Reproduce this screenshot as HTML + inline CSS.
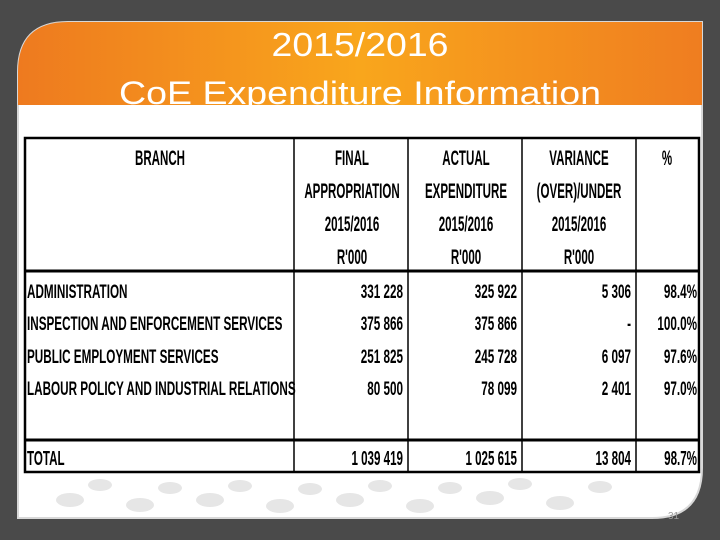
<!DOCTYPE html>
<html><head><meta charset="utf-8"><style>
html,body{margin:0;padding:0;background:#4a4a4a;}
svg{display:block;}
</style></head><body>
<svg id="s" width="720" height="540" viewBox="0 0 720 540" xmlns="http://www.w3.org/2000/svg">
<defs>
<linearGradient id="og" x1="0" x2="1" y1="0" y2="0">
<stop offset="0" stop-color="#ee7a1f"/><stop offset="0.5" stop-color="#f9a61c"/><stop offset="1" stop-color="#ef7d20"/>
</linearGradient>
<clipPath id="sc"><path d="M18,72 Q18,22 68,22 L702,22 L702,468 Q702,518 652,518 L18,518 Z"/></clipPath>
<clipPath id="tc"><rect x="0" y="0" width="720" height="105"/></clipPath>
</defs>
<rect width="720" height="540" fill="#4a4a4a"/>
<path d="M18,72 Q18,22 68,22 L702,22 L702,468 Q702,518 652,518 L18,518 Z" fill="#ffffff" stroke="#d8d8d8" stroke-width="2"/>
<g clip-path="url(#sc)" fill="#e6e6e6">
<ellipse cx="70" cy="500" rx="14" ry="7"/><ellipse cx="140" cy="505" rx="14" ry="7"/><ellipse cx="210" cy="500" rx="14" ry="7"/><ellipse cx="280" cy="506" rx="14" ry="7"/><ellipse cx="350" cy="500" rx="14" ry="7"/><ellipse cx="420" cy="506" rx="14" ry="7"/><ellipse cx="490" cy="498" rx="14" ry="7"/><ellipse cx="560" cy="503" rx="14" ry="7"/>
<ellipse cx="100" cy="485" rx="12" ry="6"/><ellipse cx="170" cy="488" rx="12" ry="6"/><ellipse cx="240" cy="486" rx="12" ry="6"/><ellipse cx="310" cy="489" rx="12" ry="6"/><ellipse cx="380" cy="486" rx="12" ry="6"/><ellipse cx="450" cy="488" rx="12" ry="6"/><ellipse cx="520" cy="484" rx="12" ry="6"/><ellipse cx="600" cy="487" rx="12" ry="6"/>
</g>
<path d="M18,72 Q18,22 68,22 L702,22 L702,105 L18,105 Z" fill="url(#og)"/>
<g font-family="Liberation Sans, sans-serif" fill="#ffffff" text-anchor="middle" clip-path="url(#tc)">
<text x="360" y="56" font-size="33" textLength="177" lengthAdjust="spacingAndGlyphs">2015/2016</text>
<text x="360" y="104" font-size="32" textLength="482" lengthAdjust="spacingAndGlyphs">CoE Expenditure Information</text>
</g>
<g id="tbl" stroke="#000" fill="none">
<rect x="25" y="138" width="674" height="334" stroke-width="2.5"/>
<line x1="25" y1="271" x2="699" y2="271" stroke-width="3"/>
<line x1="25" y1="440" x2="699" y2="440" stroke-width="3"/>
<line x1="294" y1="138" x2="294" y2="472" stroke-width="1.5"/>
<line x1="408" y1="138" x2="408" y2="472" stroke-width="1.5"/>
<line x1="522" y1="138" x2="522" y2="472" stroke-width="1.5"/>
<line x1="636" y1="138" x2="636" y2="472" stroke-width="1.5"/>
</g>
<g id="txt" font-family="Liberation Sans, sans-serif" font-weight="bold" fill="#000"></g>
<text x="668" y="519" font-family="Liberation Sans, sans-serif" font-size="10" fill="#9a9a9a">31</text>
</svg>
<script>
const branches = ["ADMINISTRATION","INSPECTION AND ENFORCEMENT SERVICES","PUBLIC EMPLOYMENT SERVICES","LABOUR POLICY AND INDUSTRIAL RELATIONS"];
const appropriation = ["331 228","375 866","251 825","80 500"];
const expenditure = ["325 922","375 866","245 728","78 099"];
const variance = ["5 306","-","6 097","2 401"];
const percent = ["98.4%","100.0%","97.6%","97.0%"];
const totals = ["TOTAL","1 039 419","1 025 615","13 804","98.7%"];
const headers = [["BRANCH"],["FINAL","APPROPRIATION","2015/2016","R'000"],["ACTUAL","EXPENDITURE","2015/2016","R'000"],["VARIANCE","(OVER)/UNDER","2015/2016","R'000"],["%"]];
const NS="http://www.w3.org/2000/svg";
const g=document.getElementById('txt');
function t(x,y,s,anchor,name,fs,sx){
  const e=document.createElementNS(NS,'text');
  e.setAttribute('x',x/sx);e.setAttribute('y',y);
  e.setAttribute('text-anchor',anchor);
  e.setAttribute('font-size',fs);
  e.setAttribute('transform','scale('+sx+',1)');
  
  
  e.textContent=s;g.appendChild(e);return e;
}
const centers=[160,352,466,579,667];
const rights=[0,403,517,631,697];
headers.forEach((h,i)=>h.forEach((s,j)=>{t(centers[i],165+j*33,s,'middle','column-header',21,0.55);}));
const rowY=[298,330,363,395];
branches.forEach((b,i)=>{
  const y=rowY[i];
  t(27,y,b,'start','branch-name',19.5,0.6);
  t(rights[1],y,appropriation[i],'end','appropriation-value',19.5,0.6);
  t(rights[2],y,expenditure[i],'end','expenditure-value',19.5,0.6);
  t(rights[3],y,variance[i],'end','variance-value',19.5,0.6);
  t(rights[4],y,percent[i],'end','percent-value',19.5,0.6);
});
t(27,465,totals[0],'start','total-label',20,0.58);
for(let k=1;k<5;k++){t(rights[k],465,totals[k],'end','total-value',20,0.58);}
</script>
</body></html>
